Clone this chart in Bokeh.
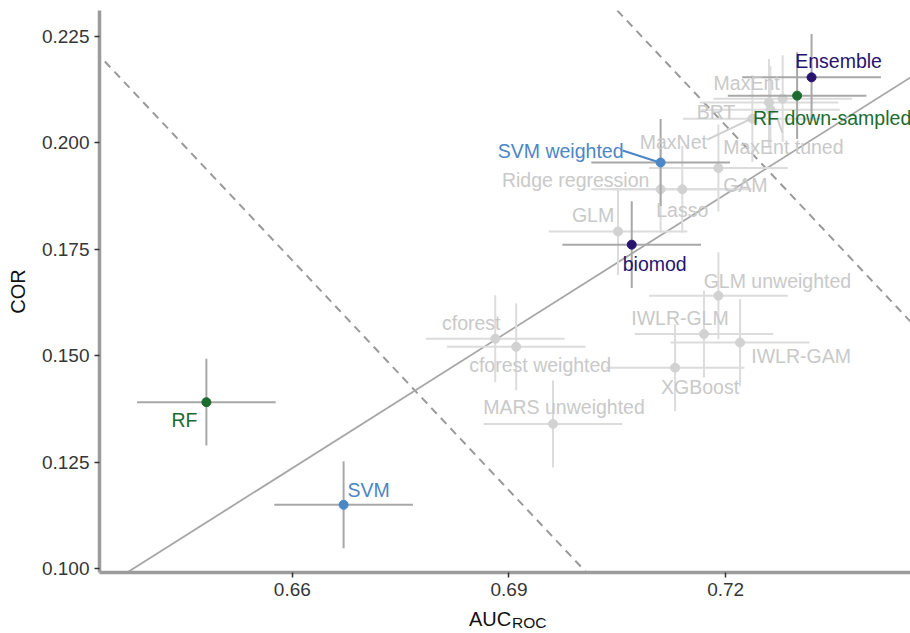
from bokeh.plotting import figure
from bokeh.layouts import column
from bokeh.models import Range1d, FixedTicker, PrintfTickFormatter, Slope, ColumnDataSource
from bokeh.core.properties import value
from bokeh.embed import file_html
from bokeh.resources import INLINE

# ---------------- data ----------------
models = ["Ensemble", "RF down-sampled", "SVM weighted", "biomod", "RF", "SVM",
          "MaxEnt", "BRT", "MaxEnt tuned", "MaxNet", "Ridge regression", "Lasso",
          "GAM", "GLM", "GLM unweighted", "IWLR-GLM", "IWLR-GAM", "XGBoost",
          "cforest", "cforest weighted", "MARS unweighted"]
auc = [0.7319, 0.7299, 0.7110, 0.7070, 0.6481, 0.6671,
       0.7279, 0.7260, 0.7262, 0.7237, 0.7110, 0.7140,
       0.7190, 0.7051, 0.7190, 0.7170, 0.7220, 0.7130,
       0.6881, 0.6910, 0.6961]
cor = [0.2154, 0.2111, 0.1954, 0.1761, 0.1391, 0.1150,
       0.2104, 0.2095, 0.2078, 0.2057, 0.1891, 0.1891,
       0.1941, 0.1792, 0.1641, 0.1551, 0.1531, 0.1472,
       0.1540, 0.1521, 0.1340]
auc_sd = [0.0096] * 21
cor_sd = [0.0102] * 21
group = ["ensemble", "rf", "svm", "ensemble", "rf", "svm"] + ["other"] * 15

x_ticks = [0.66, 0.69, 0.72]
y_ticks = [0.100, 0.125, 0.150, 0.175, 0.200, 0.225]

fit_slope, fit_intercept = 1.072, -0.5839
iso_slope = -1.8
iso_intercepts = [1.3604, 1.5001]

# ---------------- layout / style ----------------
X0, X1 = 0.6333, 0.7456
Y0, Y1 = 0.0991, 0.2311
W = 910
H_MAIN, H_TITLE = 602, 31
ML, MR, MT, MB = 99, 0, 10, 30
FW, FH = W - ML - MR, H_MAIN - MT - MB
px_x = (X1 - X0) / FW
px_y = (Y1 - Y0) / FH

point_col = {"ensemble": "#26146F", "rf": "#1D6B2E", "svm": "#4B87C6", "other": "#D2D2D2"}
text_col = {"ensemble": "#26146F", "rf": "#1D6B2E", "svm": "#4B87C6", "other": "#C9C9C9"}
bar_col = {"ensemble": "#A8A8A8", "rf": "#A8A8A8", "svm": "#A8A8A8", "other": "#DCDCDC"}

# label offsets in screen px (right, down) relative to point
label_off = {
    "Ensemble": (27, -16), "RF down-sampled": (35, 22), "SVM weighted": (-100, -11),
    "biomod": (23, 19), "RF": (-22, 18), "SVM": (25, -15),
    "MaxEnt": (-36, -16), "BRT": (-53, 10), "MaxEnt tuned": (13, 37),
    "MaxNet": (-79, 23), "Ridge regression": (-85, -9), "Lasso": (0, 21),
    "GAM": (27, 17), "GLM": (-25, -16), "GLM unweighted": (59, -15),
    "IWLR-GLM": (-24, -16), "IWLR-GAM": (61, 13), "XGBoost": (25, 19),
    "cforest": (-24, -16), "cforest weighted": (24, 18), "MARS unweighted": (11, -17),
}
# leader segments: (start offset px, end offset px)
leaders = {
    "SVM weighted": ((-38, -12), (-4, -1)),
    "MaxNet": ((-45, 21), (-3, 1)),
    "MaxEnt tuned": ((7, 9), (12, 23)),
}

FONT = "Liberation Sans"

p = figure(width=W, height=H_MAIN, output_backend="svg", toolbar_location=None,
           x_range=Range1d(X0, X1), y_range=Range1d(Y0, Y1),
           min_border_left=ML, min_border_right=MR, min_border_top=MT, min_border_bottom=MB)
p.outline_line_color = None
p.xgrid.visible = False
p.ygrid.visible = False
p.background_fill_color = "white"
p.border_fill_color = "white"

# reference lines
for b in iso_intercepts:
    p.add_layout(Slope(gradient=iso_slope, y_intercept=b, line_color="#9A9A9A",
                       line_width=2, line_dash="8 6", level="underlay"))
p.add_layout(Slope(gradient=fit_slope, y_intercept=fit_intercept, line_color="#A6A6A6",
                   line_width=1.8, level="underlay"))


def make_src(sel):
    idx = [i for i, g in enumerate(group) if sel(g)]
    return ColumnDataSource(dict(
        model=[models[i] for i in idx],
        x=[auc[i] for i in idx], y=[cor[i] for i in idx],
        xl=[auc[i] - auc_sd[i] for i in idx], xr=[auc[i] + auc_sd[i] for i in idx],
        yl=[cor[i] - cor_sd[i] for i in idx], yu=[cor[i] + cor_sd[i] for i in idx],
        pc=[point_col[group[i]] for i in idx], tc=[text_col[group[i]] for i in idx],
        bc=[bar_col[group[i]] for i in idx],
        dx=[label_off[models[i]][0] for i in idx], dy=[label_off[models[i]][1] for i in idx],
    ))


src_o = make_src(lambda g: g == "other")
src_h = make_src(lambda g: g != "other")

for src in (src_o, src_h):
    p.segment(x0="xl", y0="y", x1="xr", y1="y", line_color="bc", line_width=2, source=src)
    p.segment(x0="x", y0="yl", x1="x", y1="yu", line_color="bc", line_width=2, source=src)
    p.scatter(x="x", y="y", size=9, fill_color="pc", line_color="pc", source=src)

# leader segments
for name, (s, e) in leaders.items():
    i = models.index(name)
    p.segment(x0=[auc[i] + s[0] * px_x], y0=[cor[i] - s[1] * px_y],
              x1=[auc[i] + e[0] * px_x], y1=[cor[i] - e[1] * px_y],
              line_color=text_col[group[i]] if group[i] != "other" else "#CFCFCF",
              line_width=2)

for src in (src_o, src_h):
    p.text(x="x", y="y", text="model", x_offset="dx", y_offset="dy",
           text_align="center", text_baseline="middle", text_color="tc",
           text_font=value(FONT), text_font_size="19.5px", source=src)

# axes
for ax in (p.xaxis[0], p.yaxis[0]):
    ax.axis_line_color = "#9C9C9C"
    ax.axis_line_width = 3.5
    ax.major_tick_line_color = "#333333"
    ax.major_tick_line_width = 1.5
    ax.major_tick_out = 5
    ax.major_tick_in = 0
    ax.minor_tick_line_color = None
    ax.major_label_text_font = FONT
    ax.major_label_text_font_size = "19px"
    ax.major_label_text_color = "#363636"
    ax.major_label_standoff = 5
    ax.axis_label_text_font = FONT
    ax.axis_label_text_font_size = "20px"
    ax.axis_label_text_font_style = "normal"
    ax.axis_label_text_color = "#111111"

p.xaxis.ticker = FixedTicker(ticks=x_ticks)
p.yaxis.ticker = FixedTicker(ticks=y_ticks)
p.xaxis.formatter = PrintfTickFormatter(format="%.2f")
p.yaxis.formatter = PrintfTickFormatter(format="%.3f")
p.yaxis.axis_label = "COR"
p.yaxis.axis_label_standoff = 10

# x-axis title with subscript, in a thin strip below the plot
t = figure(width=W, height=H_TITLE, output_backend="svg", toolbar_location=None,
           x_range=p.x_range, y_range=Range1d(0, H_TITLE),
           min_border_left=ML, min_border_right=MR, min_border_top=0, min_border_bottom=0)
t.axis.visible = False
t.xgrid.visible = False
t.ygrid.visible = False
t.outline_line_color = None
t.background_fill_color = "white"
t.border_fill_color = "white"
xmid = (X0 + X1) / 2
t.text(x=[xmid], y=[15], text=["AUC"], x_offset=-36, text_align="left",
       text_baseline="middle", text_font=value(FONT), text_font_size="20px",
       text_color="#111111")
t.text(x=[xmid], y=[11], text=["ROC"], x_offset=7, text_align="left",
       text_baseline="middle", text_font=value(FONT), text_font_size="15.5px",
       text_color="#111111")

layout = column(p, t, spacing=0)
open("out.html", "w").write(file_html(layout, INLINE))
